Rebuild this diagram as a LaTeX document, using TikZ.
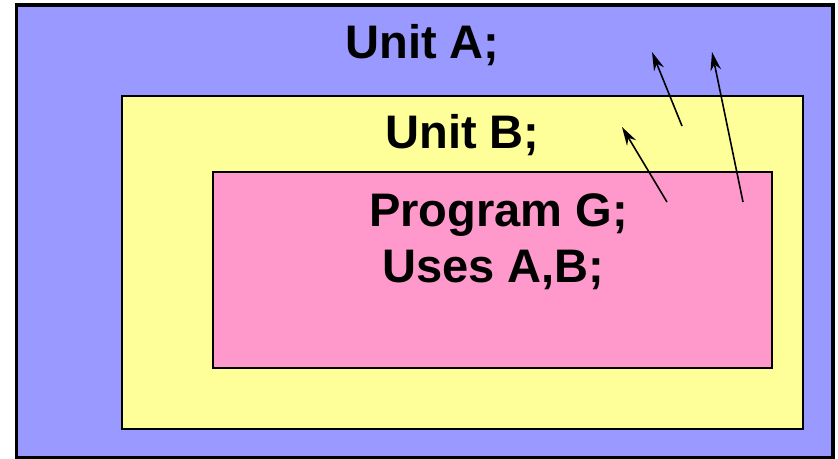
\documentclass[tikz,border=0pt]{standalone}
\usepackage{fontspec}
\setmainfont{Liberation Sans}
\usetikzlibrary{arrows.meta}
\definecolor{ublue}{HTML}{9999FF}
\definecolor{uyellow}{HTML}{FFFF99}
\definecolor{upink}{HTML}{FF99CC}
\begin{document}
\begin{tikzpicture}[x=0.75pt,y=-0.75pt,
  box/.style={draw=black,line width=2pt},
  lbl/.style={anchor=base,inner sep=0pt,font=\fontsize{35.3}{40}\selectfont\bfseries},
  arr/.style={-{Stealth[length=14pt,width=8pt]},line width=1.2pt}]
\useasboundingbox (0,0) rectangle (838,459);
\draw[box,fill=ublue,line width=2.4pt] (16.5,5) rectangle (833,457.5);
\draw[box,fill=uyellow] (122,96) rectangle (803,429);
\draw[box,fill=upink] (213,172) rectangle (772,368);
\node[lbl] (ua) at (422.5,59) {Unit A;};
\node[lbl] (ub) at (462.5,149) {Unit B;};
\node[lbl] (pg) at (498.5,227) {Program G;};
\node[lbl] (us) at (493.5,283) {Uses A,B;};
\coordinate (s1) at (682,126); \coordinate (t1) at (652,52);
\coordinate (s2) at (743,202); \coordinate (t2) at (712,52);
\coordinate (s3) at (667,202); \coordinate (t3) at (622,127);
\draw[arr] (s1) -- (t1);
\draw[arr] (s2) -- (t2);
\draw[arr] (s3) -- (t3);
\end{tikzpicture}
\end{document}
